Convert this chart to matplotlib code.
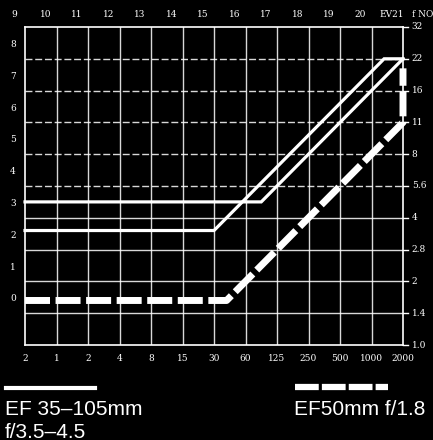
import matplotlib
matplotlib.use("Agg")
import matplotlib.pyplot as plt
from matplotlib.lines import Line2D

# scales
shutter_labels = ['2', '1', '2', '4', '8', '15', '30', '60', '125', '250', '500', '1000', '2000']
ev_labels = ['9', '10', '11', '12', '13', '14', '15', '16', '17', '18', '19', '20', 'EV21']
fno_labels = ['1.0', '1.4', '2', '2.8', '4', '5.6', '8', '11', '16', '22', '32']
left_labels = ['0', '1', '2', '3', '4', '5', '6', '7', '8']

# program lines (x = shutter step, y = aperture step)
ef35_tele_x = [0, 7.5, 12.0]
ef35_tele_y = [4.5, 4.5, 9.0]
ef35_wide_x = [0, 6.0, 11.4, 12.0]
ef35_wide_y = [3.6, 3.6, 9.0, 9.0]
ef50_x = [0, 6.4, 12.0, 12.0]
ef50_y = [1.4, 1.4, 7.0, 8.7]

W, H = 433, 440
fig = plt.figure(figsize=(W / 100, H / 100), dpi=100, facecolor='black')
ax = fig.add_axes([25 / W, (H - 345) / H, 378 / W, 318 / H])
ax.set_facecolor('black')
ax.set_xlim(0, 12)
ax.set_ylim(0, 10)
for s in ax.spines.values():
    s.set_color('white')
    s.set_linewidth(1.2)
ax.set_xticks([])
ax.set_yticks([])

# grid
for i in range(1, 12):
    ax.axvline(i, color='white', lw=1.0, alpha=0.85)
for j in range(1, 10):
    ls = '-' if j <= 4 else (0, (5, 2))
    ax.axhline(j, color='white', lw=1.0, ls=ls, alpha=0.85)

# curves
ax.plot(ef35_tele_x, ef35_tele_y, color='white', lw=2.3, solid_joinstyle='miter', clip_on=False)
ax.plot(ef35_wide_x, ef35_wide_y, color='white', lw=2.3, solid_joinstyle='miter', clip_on=False)
ax.plot(ef50_x, ef50_y, color='white', lw=5, ls=(0, (3.6, 0.8)), clip_on=False)

tfont = dict(color='white', fontsize=6.5, family='DejaVu Serif', clip_on=False)
for i, lab in enumerate(ev_labels):
    ax.text(i - 0.35, 10.38, lab, ha='center', va='center', **tfont)
for i, lab in enumerate(shutter_labels):
    ax.text(i, -0.42, lab, ha='center', va='center', **tfont)
for j, lab in enumerate(fno_labels):
    ax.text(12.28, j, lab, ha='left', va='center', **tfont)
    ax.plot([12.0, 12.15], [j, j], color='white', lw=1.0, clip_on=False)
ax.text(12.28, 10.38, 'f NO', ha='left', va='center', **tfont)
for k, lab in enumerate(left_labels):
    ax.text(-0.38, k + 1.45, lab, ha='center', va='center', **tfont)

# legend
fig.add_artist(Line2D([6 / W, 95 / W], [(H - 388) / H] * 2, color='white', lw=3))
fig.add_artist(Line2D([295 / W, 388 / W], [(H - 387) / H] * 2, color='white', lw=4.5,
                      ls=(0, (3.8, 0.5))))
lfont = dict(color='white', fontsize=15, family='Liberation Sans')
fig.text(5 / W, (H - 409) / H, 'EF 35\u2013105mm', ha='left', va='center', **lfont)
fig.text(5 / W, (H - 432) / H, 'f/3.5\u20134.5', ha='left', va='center', **lfont)
fig.text(294 / W, (H - 409) / H, 'EF50mm f/1.8', ha='left', va='center', **lfont)

fig.savefig('out.png', dpi=100, facecolor='black')
